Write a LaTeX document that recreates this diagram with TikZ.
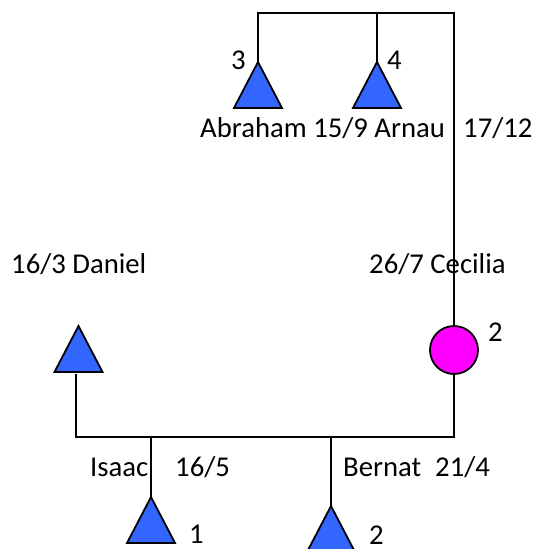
\documentclass[tikz,border=0pt]{standalone}
\usepackage{fontspec}
\setmainfont{Carlito}
\definecolor{triblue}{HTML}{3366FF}
\definecolor{femmag}{HTML}{FF00FF}
\tikzset{
  lbl/.style={anchor=base west, inner sep=0pt, font=\fontsize{28.7}{34}\selectfont},
  conn/.style={line width=1.8pt, black},
  tri/.pic={\draw[line width=1.8pt, fill=triblue, line join=miter] (0,0) -- (24,46) -- (-24,46) -- cycle;},
  fem/.style={circle, draw, line width=1.8pt, fill=femmag, minimum size=48pt, inner sep=0pt}
}
\begin{document}
\begin{tikzpicture}[x=1pt,y=-1pt]
\useasboundingbox (0,0) rectangle (537,549);
\clip (0,0) rectangle (537,549);
% coordinates
\coordinate (top) at (0,13);
\coordinate (bot) at (0,437);
\coordinate (abr) at (258,62);
\coordinate (arn) at (377,62);
\coordinate (dan) at (78.5,326);
\coordinate (danb) at (76,374);
\coordinate (isa) at (151,497);
\coordinate (ber) at (331,506);
% connectors
\draw[conn] (abr) -- (abr|-top) -| (454,300) coordinate (rv);
\draw[conn] (arn) -- (arn|-top);
% text (under lines)
\node[lbl] (tcec) at (369,273) {26/7 Cecilia};
\node[fem] (cec) at (454,350) {};
\draw[conn] (rv) -- (cec.north);
\draw[conn] (danb) -- (danb|-bot) -| (cec.south);
\draw[conn] (isa) -- (isa|-bot);
\draw[conn] (ber) -- (ber|-bot);
% triangles
\pic at (abr) {tri};
\pic at (arn) {tri};
\pic at (dan) {tri};
\pic at (isa) {tri};
\pic at (ber) {tri};
% labels
\node[lbl] (n3) at (231,69) {3};
\node[lbl] (n4) at (387,69) {4};
\node[lbl] (tab) at (200,137) {Abraham 15/9 Arnau};
\node[lbl] (t1712) at (463,137) {17/12};
\node[lbl] (tdan) at (11,273) {16/3 Daniel};
\node[lbl] (n2c) at (488,341) {2};
\node[lbl] (tisa) at (90,476) {Isaac};
\node[lbl] (t165) at (175,476) {16/5};
\node[lbl] (tber) at (343,476) {Bernat};
\node[lbl] (t214) at (435,476) {21/4};
\node[lbl] (n1) at (189,543) {1};
\node[lbl] (n2b) at (369,544) {2};
\end{tikzpicture}
\end{document}
